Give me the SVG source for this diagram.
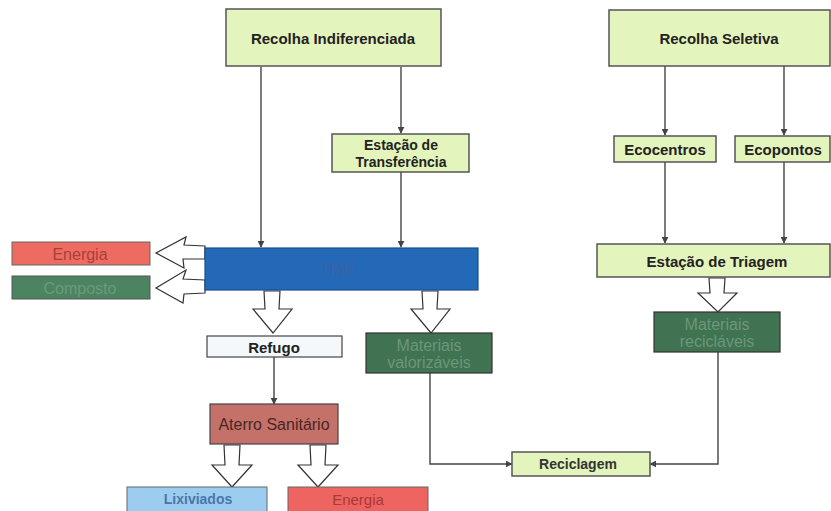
<svg xmlns="http://www.w3.org/2000/svg" width="831" height="511" viewBox="0 0 831 511">
<defs>
<marker id="ah" viewBox="0 0 10 10" refX="9" refY="5" markerWidth="7" markerHeight="7" orient="auto-start-reverse" markerUnits="userSpaceOnUse">
<path d="M0,0 L10,5 L0,10 z" fill="#444"/>
</marker>
<style>
text{font-family:"Liberation Sans",Arial,sans-serif;font-weight:bold;font-size:15px;text-anchor:middle;dominant-baseline:central}
text.n{font-weight:normal;font-size:16px}
.lg{fill:#e4f4bd;stroke:#555;stroke-width:1.5}
.dk{fill:#222}
.con{fill:none;stroke:#444;stroke-width:1.4}
.ba{fill:#fff;stroke:#333;stroke-width:1.2;stroke-linejoin:miter}
</style>
</defs>
<rect width="831" height="511" fill="#fff"/>

<g id="connectors">
<line class="con" x1="261" y1="67" x2="261" y2="247" marker-end="url(#ah)"/>
<line class="con" x1="401" y1="67" x2="401" y2="133" marker-end="url(#ah)"/>
<line class="con" x1="401" y1="172" x2="401" y2="247" marker-end="url(#ah)"/>
<line class="con" x1="665" y1="66" x2="665" y2="135" marker-end="url(#ah)"/>
<line class="con" x1="784" y1="66" x2="784" y2="135" marker-end="url(#ah)"/>
<line class="con" x1="665" y1="162" x2="665" y2="243" marker-end="url(#ah)"/>
<line class="con" x1="784" y1="162" x2="784" y2="243" marker-end="url(#ah)"/>
<line class="con" x1="274" y1="357" x2="274" y2="404" marker-end="url(#ah)"/>
<polyline class="con" points="430,373 430,464 512,464" marker-end="url(#ah)"/>
<polyline class="con" points="718,352 718,464 650,464" marker-end="url(#ah)"/>
<!-- block arrows -->
<polygon class="ba" points="205,246 184,245 186,237 156,253 184,268 183,259 205,259"/>
<polygon class="ba" points="205,280 183,279 186,270 156,288 183,303 184,294 205,293"/>
<polygon class="ba" points="264,291 280,291 279,309 292,309 273,333 253,309 265,309"/>
<polygon class="ba" points="422,291 438,291 437,309 450,309 431,333 411,309 423,309"/>
<polygon class="ba" points="709,278 725,278 724,293 737,293 718,312 698,293 710,293"/>
<polygon class="ba" points="224,445 240,445 239,465 252,465 232,487 212,465 225,465"/>
<polygon class="ba" points="310,445 326,445 325,465 338,465 318,487 298,465 311,465"/>
</g>

<g id="recolha-indiferenciada">
<rect class="lg" x="226" y="9" width="215" height="57"/>
<text class="dk" x="333" y="38">Recolha Indiferenciada</text>
</g>
<g id="estacao-transferencia">
<rect class="lg" x="332" y="134" width="137" height="38"/>
<text class="dk" x="401" y="145" style="font-size:14px">Estação de</text>
<text class="dk" x="401" y="162" style="font-size:14px">Transferência</text>
</g>
<g id="recolha-seletiva">
<rect class="lg" x="609" y="10" width="221" height="56"/>
<text class="dk" x="719" y="38">Recolha Seletiva</text>
</g>
<g id="ecocentros">
<rect class="lg" x="614" y="136" width="102" height="26"/>
<text class="dk" x="665" y="149">Ecocentros</text>
</g>
<g id="ecopontos">
<rect class="lg" x="735" y="136" width="95" height="26"/>
<text class="dk" x="783" y="149">Ecopontos</text>
</g>
<g id="estacao-triagem">
<rect class="lg" x="597" y="244" width="233" height="33"/>
<text class="dk" x="717" y="261">Estação de Triagem</text>
</g>
<g id="tmb">
<rect x="205" y="248" width="273" height="42" fill="#2468b8" stroke="#1d4f8c" stroke-width="1.2"/>
<text class="n" x="337" y="269" fill="#3a64a0">TMB</text>
</g>
<g id="energia-1">
<rect x="12" y="242" width="138" height="23" fill="#ee6b62" stroke="#666" stroke-width="1"/>
<text class="n" x="80" y="254" fill="#a8403a">Energia</text>
</g>
<g id="composto">
<rect x="12" y="276" width="138" height="23" fill="#4c8461" stroke="#555" stroke-width="1"/>
<text class="n" x="80" y="288" fill="#6a9a7a">Composto</text>
</g>
<g id="refugo">
<rect x="207" y="336" width="135" height="21" fill="#f4f8fb" stroke="#444" stroke-width="1.2"/>
<text class="dk" x="274" y="347">Refugo</text>
</g>
<g id="materiais-valorizaveis">
<rect x="366" y="333" width="126" height="40" fill="#3f7352" stroke="#333" stroke-width="1.2"/>
<text class="n" x="429" y="345" fill="#6d967a">Materiais</text>
<text class="n" x="429" y="362" fill="#6d967a">valorizáveis</text>
</g>
<g id="materiais-reciclaveis">
<rect x="654" y="312" width="126" height="40" fill="#3f7352" stroke="#333" stroke-width="1.2"/>
<text class="n" x="717" y="324" fill="#6d967a">Materiais</text>
<text class="n" x="717" y="341" fill="#6d967a">recicláveis</text>
</g>
<g id="aterro">
<rect x="210" y="404" width="128" height="40" fill="#c4716a" stroke="#444" stroke-width="1.2"/>
<text class="n" x="274" y="424" fill="#4a2623" style="font-size:16px">Aterro Sanitário</text>
</g>
<g id="reciclagem">
<rect class="lg" x="512" y="452" width="138" height="24" stroke-width="1.2"/>
<text x="578" y="464" fill="#333" style="font-size:14px">Reciclagem</text>
</g>
<g id="lixiviados">
<rect x="127" y="487" width="140" height="26" fill="#9ccdf0" stroke="#666" stroke-width="1"/>
<text x="198" y="499" fill="#4a76a8" style="font-size:14px">Lixiviados</text>
</g>
<g id="energia-2">
<rect x="288" y="487" width="140" height="26" fill="#ee6460" stroke="#666" stroke-width="1"/>
<text class="n" x="358" y="499" fill="#a83a36" style="font-size:15px">Energia</text>
</g>
</svg>
